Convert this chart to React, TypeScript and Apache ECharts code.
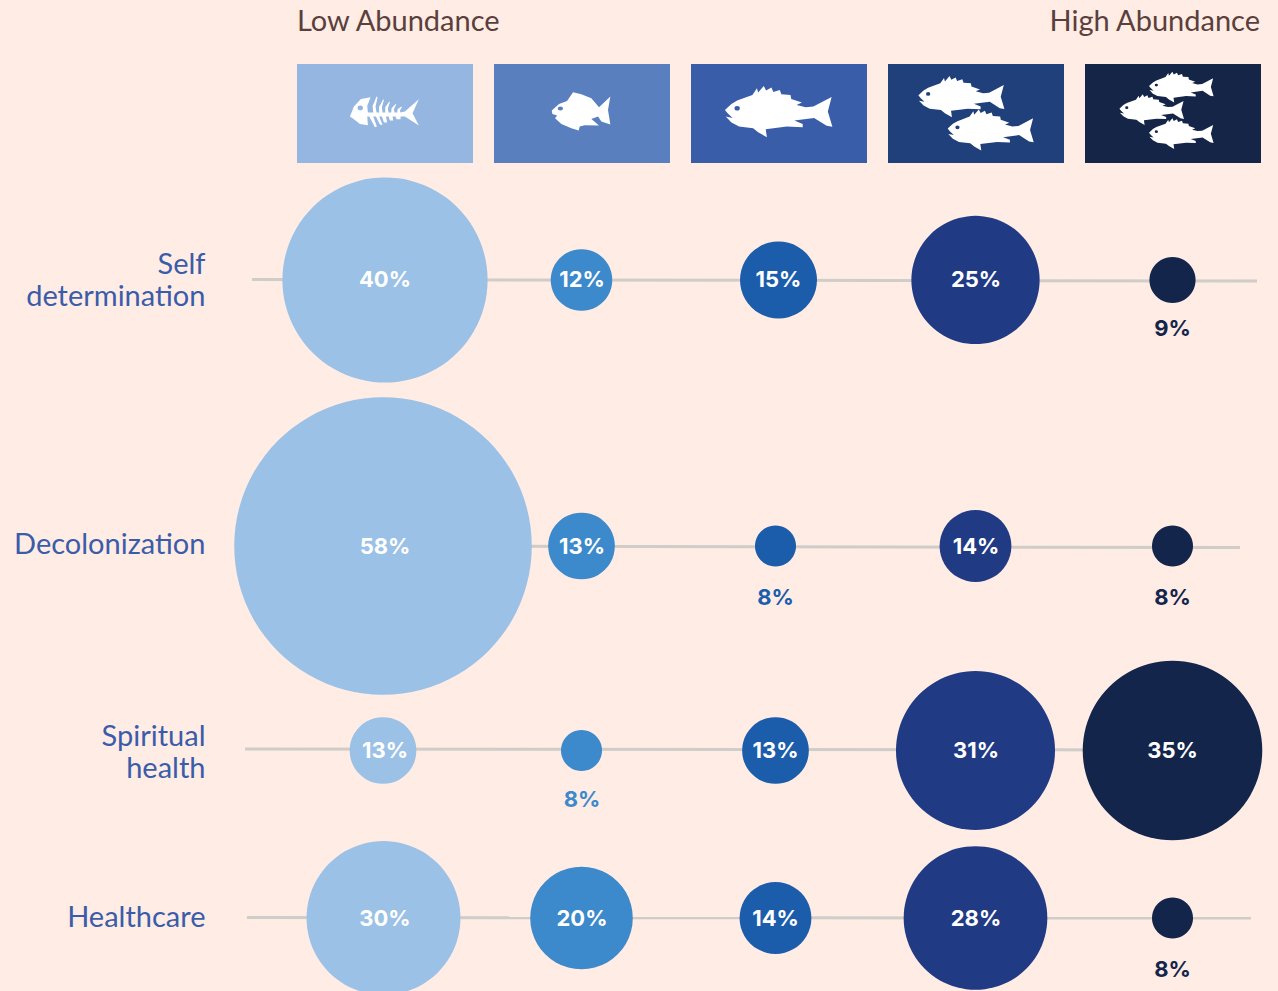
import React, { useEffect, useRef } from "react";
import * as echarts from "echarts";

const abundanceLevels = ["Very low", "Low", "Medium", "High", "Very high"];
const themes = ["Self\ndetermination", "Decolonization", "Spiritual\nhealth", "Healthcare"];
const selfDetermination = [40, 12, 15, 25, 9];
const decolonization = [58, 13, 8, 14, 8];
const spiritualHealth = [13, 8, 13, 31, 35];
const healthcare = [30, 20, 14, 28, 8];
const rows = [selfDetermination, decolonization, spiritualHealth, healthcare];

const rowCenters = [280, 546, 750.5, 918];
const columnOrigin = 385;
const columnStep = 197;
const sizePerPercent = 5.13;
const insideThreshold = 10;
const outsideLabelGap = [14, 19, 17, 19];
const insideLabelLift = [-1, 0, -1, 0];
const themeLabelLift = [2, 4, 0, 3];
const nudges = [
  [0, -0.5, -0.5, -0.5, -0.5],
  [-2, -0.5, -3.5, -0.5, -0.5],
  [-2, -0.5, -3.5, -0.5, -0.5],
  [-1.5, -0.5, -3.5, -0.5, -0.5],
];
const labelNudges = [0, 0.5, 0, 0.5, 0];
const lineExtents = [
  [252, 279.5, 1257, 281],
  [300, 546, 1240, 547.5],
  [245, 749, 1200, 750],
  [247, 917.5, 1251, 918],
];
const circleColors = ["#9BC1E6", "#3C89CB", "#1B5CAB", "#213A84", "#13254A"];
const swatchColors = ["#94B6E1", "#5A7FBF", "#3A5DA9", "#20407C", "#142548"];

const FISH =
  "M118 330 L135 312 L150 302 L190 285 L202 265 L205 278 L220 258 L226 272 L240 263 L245 276 L262 270 L266 283 L290 285 L292 297 L320 308 L306 315 L330 322 L350 320 L398 291 L388 335 L400 381 L385 378 L352 354 L300 362 L322 372 L322 382 L280 380 L225 388 L228 412 L205 397 L192 385 L155 380 L135 368 L120 350 L138 354 L125 340 Z M143 325 a7 7 0 1 0 14 0 a7 7 0 1 0 -14 0 Z";
const SMALL_FISH =
  "M816 332 L838 312 L862 303 L880 277 L905 283 L935 295 L958 322 L992 290 L985 330 L992 374 L965 365 L955 350 L935 357 L958 377 L915 376 L900 380 L897 392 L875 385 L845 372 L826 355 L832 347 L818 342 Z M834 326 a8 6 0 1 0 16 0 a8 6 0 1 0 -16 0 Z";
const BONE_FISH =
  "M210 350 L222 320 L243 297 L272 292 L262 318 L264 338 L280 338 L278 318 L290 290 L293 292 L287 320 L290 338 L298 338 L297 322 L310 298 L312 300 L306 322 L308 338 L316 338 L316 322 L328 305 L330 307 L324 325 L326 338 L334 338 L335 325 L347 312 L349 314 L342 328 L344 338 L352 338 L353 328 L365 320 L366 322 L360 332 L362 338 L375 335 L417 298 L398 340 L417 377 L375 350 L362 350 L362 358 L350 358 L347 350 L338 350 L340 362 L330 362 L326 350 L318 350 L322 368 L312 368 L306 350 L298 350 L308 375 L300 374 L288 350 L280 350 L291 380 L285 382 L268 350 L262 350 L264 376 L240 372 L222 358 Z M233 324 a8 7 0 1 0 16 0 a8 7 0 1 0 -16 0 Z";

echarts.graphic.registerShape("fishIcon", echarts.graphic.extendPath(FISH, {}));
echarts.graphic.registerShape("smallFishIcon", echarts.graphic.extendPath(SMALL_FISH, {}));
echarts.graphic.registerShape("boneFishIcon", echarts.graphic.extendPath(BONE_FISH, {}));

const toColumn = (px: number) => (px - columnOrigin) / columnStep;

const icon = (type: string, x: number, y: number, scaleX: number, scaleY: number) => ({
  type,
  x,
  y,
  scaleX,
  scaleY,
  z: 5,
  style: { fill: "#FFFFFF" },
});

const buildOption = () => {
  const pointSeries = abundanceLevels.map((level, col) => ({
    type: "scatter",
    name: level,
    z: 3,
    symbol: "circle",
    symbolSize: (d: number[]) => d[2] * sizePerPercent,
    itemStyle: { color: circleColors[col], opacity: 1 },
    data: rows.map((row, r) => {
      const v = row[col];
      const inside = v > insideThreshold;
      return {
        value: [col + nudges[r][col] / columnStep, rowCenters[r], v],
        label: {
          show: true,
          position: inside ? "inside" : "bottom",
          distance: outsideLabelGap[r],
          offset: [col === 0 ? -nudges[r][0] : labelNudges[col], inside ? insideLabelLift[r] : 0],
          formatter: `${v}%`,
          color: inside ? "#FFFFFF" : circleColors[col],
          fontFamily: "Inter",
          fontWeight: 700,
          fontSize: 22,
        },
      };
    }),
  }));

  const lineSeries = lineExtents.map((ext, r) => ({
    type: "line",
    name: themes[r].replace("\n", " "),
    z: 1,
    symbol: "none",
    silent: true,
    lineStyle: { color: "#CFCDC8", width: 3 },
    data: [
      [toColumn(ext[0]), ext[1]],
      [toColumn(ext[2]), ext[3]],
    ],
  }));

  const graphics: any[] = [];
  swatchColors.forEach((fill, i) => {
    graphics.push({
      type: "rect",
      x: 297 + i * columnStep,
      y: 64,
      z: 4,
      shape: { width: 176, height: 99 },
      style: { fill },
    });
  });
  const sx = 1 / 2.622;
  const sy = 1 / 3;
  graphics.push(
    icon("boneFishIcon", 280, 0, 1 / 3, 1 / 3),
    icon("smallFishIcon", 280, 0, 1 / 3, 1 / 3),
    icon("fishIcon", 680, 0, sx, sy),
    icon("fishIcon", 882.4, 7.2, 0.8 * sx, 0.8 * sy),
    icon("fishIcon", 911.7, 40.5, 0.8 * sx, 0.8 * sy),
    icon("fishIcon", 1122, 20.07, 0.6 * sx, 0.6 * sy),
    icon("fishIcon", 1092.4, 42.7, 0.6 * sx, 0.6 * sy),
    icon("fishIcon", 1122, 66.7, 0.6 * sx, 0.6 * sy)
  );
  const headerStyle = { fill: "#5A3F3C", fontFamily: "Lato", fontSize: 29, fontWeight: 400 };
  graphics.push(
    { type: "text", x: 297, y: 19.5, style: { ...headerStyle, text: "Low Abundance", textAlign: "left", textVerticalAlign: "middle" } },
    { type: "text", x: 1260, y: 19.5, style: { ...headerStyle, text: "High Abundance", textAlign: "right", textVerticalAlign: "middle" } }
  );
  themes.forEach((t, r) => {
    graphics.push({
      type: "text",
      x: 205.5,
      y: rowCenters[r] - themeLabelLift[r],
      style: {
        text: t,
        fill: "#3A5CA9",
        fontFamily: "Lato",
        fontSize: 29,
        fontWeight: 400,
        lineHeight: 32,
        textAlign: "right",
        textVerticalAlign: "middle",
      },
    });
  });

  return {
    animation: false,
    backgroundColor: "#FFECE5",
    grid: { left: 0, right: 0, top: 0, bottom: 0 },
    xAxis: { type: "value", min: toColumn(0), max: toColumn(1278), show: false },
    yAxis: { type: "value", min: 0, max: 991, inverse: true, show: false },
    graphic: graphics,
    series: [...lineSeries, ...pointSeries],
  };
};

export default function App() {
  const ref = useRef<HTMLDivElement>(null);
  useEffect(() => {
    const chart = echarts.init(ref.current!, undefined, { renderer: "svg" });
    chart.setOption(buildOption() as any);
    return () => chart.dispose();
  }, []);
  return <div ref={ref} style={{ position: "absolute", left: 0, top: 0, width: 1278, height: 991 }} />;
}
